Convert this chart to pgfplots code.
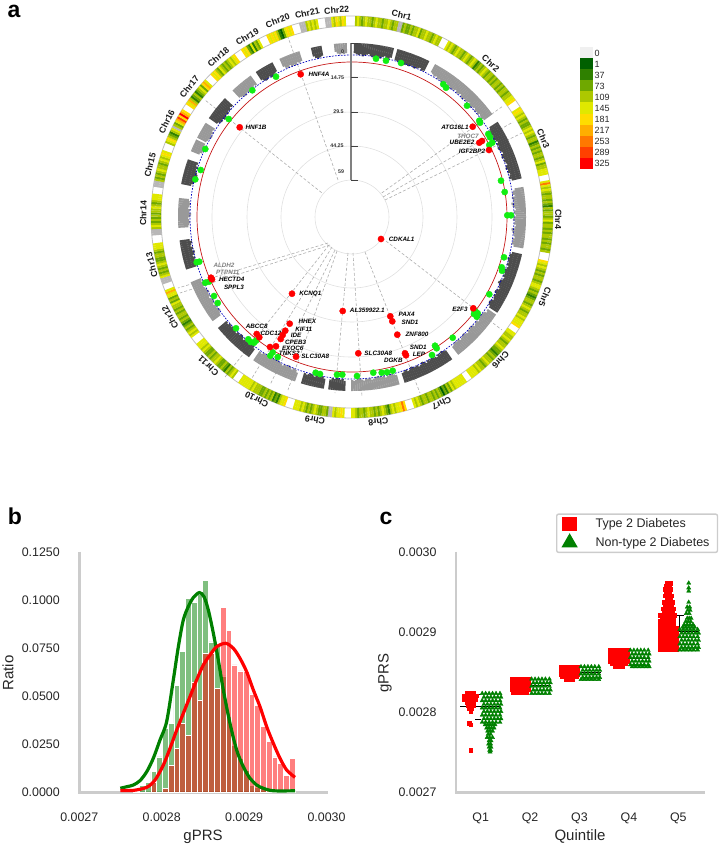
\documentclass[border=0pt]{standalone}
\usepackage{fontspec}
\setmainfont{Liberation Sans}
\usepackage{pgfplots}
\pgfplotsset{compat=1.18}
\definecolor{sp}{HTML}{CCCCCC}
\definecolor{tx}{HTML}{262626}
\definecolor{gdot}{HTML}{12EE12}
\definecolor{dk}{HTML}{4D4D4D}
\definecolor{lg}{HTML}{999999}
\definecolor{gg}{HTML}{008000}
\newcommand\heat[2]{\addplot[forget plot,point meta=\thisrowno{0},quiver={u={10*sin(#1+0.6*\coordindex)},v={-10*cos(#1+0.6*\coordindex)},colored=mapped color,every arrow/.append style={line width=2.2pt}}] table[header=false,row sep=\\,x expr={352+191*sin(#1+0.6*\coordindex)},y expr={217-191*cos(#1+0.6*\coordindex)}] {#2};}
\newcommand\band[3]{\addplot[forget plot,quiver={u={-\thisrowno{0}*sin(#1+0.7*\coordindex)},v={\thisrowno{0}*cos(#1+0.7*\coordindex)},every arrow/.append style={line width=2.3pt,draw=#2}}] table[header=false,row sep=\\,x expr={352+174*sin(#1+0.7*\coordindex)},y expr={217-174*cos(#1+0.7*\coordindex)}] {#3};}
\newcommand\dline[4]{\addplot[forget plot,no marks,color=black!32,line width=0.6pt,dash pattern=on 3pt off 2pt] coordinates {(#1,#2) (#3,#4)};}
\newcommand\gn[3]{\node[font=\fontsize{6.3}{7}\selectfont\bfseries\itshape,text=#3,inner sep=0pt] at (axis cs:#1) {#2};}
\newcommand\chrl[3]{\node[font=\fontsize{8.8}{10}\selectfont\bfseries,text=black!90,rotate=#2,inner sep=0pt] at (axis cs:#1) {#3};}
\begin{document}
\begin{tikzpicture}
\useasboundingbox (0,0) rectangle (719pt,846pt);
\begin{axis}[at={(0,0)},anchor=south west,scale only axis,width=719pt,height=846pt,xmin=0,xmax=719,ymin=0,ymax=846,y dir=reverse,hide axis,clip=false,
 point meta min=0,point meta max=12,
 colormap={heat}{rgb255=(240,240,240) rgb255=(0,96,0) rgb255=(47,128,0) rgb255=(111,168,0) rgb255=(173,200,0) rgb255=(224,232,0) rgb255=(255,220,0) rgb255=(255,174,0) rgb255=(255,120,0) rgb255=(255,64,0) rgb255=(255,0,0) rgb255=(184,184,184) rgb255=(255,255,255)}]
% rings
\draw[black!12,line width=0.6pt] (352,217) circle[radius=37pt] (352,217) circle[radius=71pt] (352,217) circle[radius=105pt] (352,217) circle[radius=140pt];
\draw[black!25,line width=0.8pt] (352,217) circle[radius=201pt] (352,217) circle[radius=191pt];
% dashed links
\dline{338}{180}{288}{37}
\dline{321.7}{192.7}{205}{100}
\dline{381.7}{193}{503}{106}
\dline{383}{197}{513}{122}
\dline{385}{200}{522}{133}
\dline{382}{238}{502}{330}
\dline{330}{245}{180}{293}
\dline{328}{243}{178}{288}
\dline{329}{245}{225}{377}
\dline{332}{247}{252}{378}
\dline{335}{250}{270}{385}
\dline{337}{251}{288}{390}
\dline{348}{253}{335}{393}
\dline{353}{253}{362}{397}
\dline{365}{252}{420}{393}
% heat ring
\heat{1.2}{4\\5\\4\\3\\4\\5\\4\\4\\3\\4\\5\\4\\4\\3\\4\\4\\5\\4\\3\\4\\4\\11\\11\\3\\4\\3\\3\\4\\3\\4\\4\\5\\3\\4\\4\\5\\4\\4\\3\\4\\5\\4\\4\\}
\heat{29}{5\\4\\5\\4\\3\\4\\5\\4\\4\\3\\4\\5\\4\\3\\4\\5\\4\\2\\3\\4\\3\\4\\5\\4\\3\\4\\4\\3\\4\\3\\4\\4\\3\\4\\3\\4\\4\\3\\4\\4\\5\\5\\6\\}
\heat{57}{5\\6\\5\\4\\5\\4\\3\\4\\3\\3\\4\\5\\4\\5\\4\\3\\4\\4\\2\\3\\4\\3\\4\\3\\4\\4\\3\\4\\5\\3\\4\\4\\5\\5\\5\\}
\heat{79.7}{5\\8\\5\\4\\5\\4\\3\\4\\4\\3\\4\\3\\2\\4\\3\\4\\4\\3\\4\\5\\3\\4\\4\\3\\4\\3\\4\\4\\3\\4\\3\\4\\4\\3\\4\\}
\heat{103}{6\\5\\4\\5\\4\\3\\4\\3\\4\\4\\3\\4\\5\\5\\4\\3\\4\\3\\2\\3\\4\\4\\3\\4\\5\\4\\3\\4\\4\\5\\4\\5\\5\\5\\6\\}
\heat{125.7}{5\\5\\4\\4\\5\\4\\3\\4\\4\\5\\4\\3\\3\\2\\3\\4\\3\\4\\4\\5\\4\\3\\4\\4\\5\\4\\5\\5\\5\\5\\}
\heat{145.4}{5\\5\\5\\5\\5\\5\\4\\5\\3\\4\\2\\3\\1\\3\\4\\3\\4\\3\\4\\4\\3\\4\\4\\3\\4\\5\\4\\5\\}
\heat{164.4}{6\\8\\6\\5\\5\\4\\5\\4\\2\\3\\4\\5\\4\\3\\4\\3\\4\\4\\5\\4\\3\\4\\4\\3\\4\\5\\5\\}
\heat{182.5}{5\\6\\5\\5\\4\\5\\11\\11\\3\\4\\4\\3\\3\\4\\5\\4\\3\\4\\3\\4\\5\\4\\5\\5\\5\\}
\heat{199.8}{6\\5\\5\\4\\2\\3\\2\\4\\3\\4\\3\\4\\3\\3\\4\\4\\4\\5\\4\\5\\5\\5\\5\\5\\5\\}
\heat{216.7}{4\\5\\4\\3\\4\\2\\3\\4\\3\\3\\4\\5\\4\\4\\3\\4\\3\\3\\4\\5\\4\\5\\5\\5\\}
\heat{233.3}{5\\4\\5\\4\\3\\4\\3\\2\\3\\4\\3\\4\\4\\3\\4\\3\\4\\4\\5\\3\\4\\3\\5\\5\\7\\5\\}
\heat{250.7}{11\\11\\11\\5\\4\\3\\4\\3\\4\\5\\4\\3\\3\\4\\4\\3\\4\\5\\5\\5\\}
\heat{265}{11\\11\\11\\4\\5\\4\\3\\4\\3\\4\\3\\4\\4\\5\\4\\3\\4\\5\\5\\5\\}
\heat{279}{11\\11\\11\\4\\3\\4\\3\\4\\5\\4\\4\\3\\4\\5\\4\\5\\6\\5\\}
\heat{292}{4\\5\\6\\4\\3\\2\\4\\5\\11\\4\\3\\5\\7\\9\\6\\10\\7\\6\\}
\heat{304.5}{6\\5\\7\\4\\2\\3\\4\\2\\3\\4\\5\\3\\6\\7\\5\\}
\heat{315.5}{6\\5\\6\\4\\3\\5\\4\\3\\4\\3\\4\\5\\4\\5\\6\\}
\heat{326.7}{6\\5\\6\\3\\2\\5\\2\\4\\3\\5\\}
\heat{335}{6\\5\\6\\5\\6\\4\\2\\1\\3\\5\\6\\5\\6\\}
\heat{345}{11\\11\\11\\4\\5\\4\\5\\4\\5\\}
\heat{352.5}{11\\11\\11\\5\\4\\6\\5\\4\\6\\5\\}
% manhattan bands
\band{1}{dk}{10\\11\\12\\11\\13\\12\\11\\10\\12\\13\\12\\11\\12\\13\\11\\10\\12\\12\\10\\}
\band{15.5}{dk}{11\\12\\13\\12\\14\\13\\12\\13\\12\\11\\13\\12\\11\\10\\12\\11\\}
\band{28.9}{lg}{9\\10\\11\\10\\12\\11\\12\\13\\11\\10\\12\\11\\13\\12\\11\\10\\12\\11\\10\\12\\13\\11\\12\\11\\10\\12\\13\\11\\10\\12\\11\\12\\10\\11\\12\\10\\}
\band{57.2}{dk}{10\\11\\13\\12\\11\\12\\13\\11\\10\\12\\11\\13\\12\\11\\10\\12\\13\\11\\12\\11\\10\\12\\13\\11\\12\\10\\11\\12\\10\\}
\band{80.4}{lg}{9\\11\\12\\10\\13\\12\\11\\14\\13\\11\\10\\12\\11\\10\\12\\13\\11\\12\\10\\11\\14\\13\\12\\11\\10\\12\\11\\12\\10\\}
\band{102.7}{dk}{10\\12\\11\\13\\12\\11\\12\\10\\11\\13\\12\\11\\12\\10\\11\\13\\14\\12\\11\\10\\12\\13\\11\\12\\11\\10\\12\\13\\12\\10\\}
\band{124.5}{lg}{10\\9\\11\\12\\13\\12\\11\\10\\12\\11\\10\\12\\13\\11\\12\\10\\11\\13\\12\\11\\10\\12\\11\\12\\11\\10\\}
\band{145.2}{dk}{11\\12\\13\\11\\12\\10\\11\\13\\12\\11\\12\\10\\12\\13\\11\\10\\12\\11\\12\\13\\11\\10\\12\\11\\10\\}
\band{164.5}{lg}{10\\11\\12\\13\\11\\10\\12\\11\\12\\13\\12\\11\\10\\12\\11\\12\\10\\11\\12\\13\\11\\10\\11\\}
\band{182.6}{dk}{10\\12\\11\\12\\13\\11\\12\\10\\}
\band{189.7}{dk}{10\\12\\13\\11\\12\\10\\11\\12\\11\\10\\11\\}
\band{199.5}{lg}{9\\11\\12\\10\\12\\13\\11\\12\\10\\11\\12\\13\\14\\12\\13\\11\\10\\12\\11\\12\\10\\11\\}
\band{216.7}{dk}{10\\12\\13\\11\\12\\13\\11\\10\\12\\13\\11\\12\\10\\11\\13\\12\\11\\12\\10\\11\\}
\band{233.6}{lg}{10\\11\\13\\12\\11\\12\\10\\12\\13\\11\\10\\12\\11\\13\\12\\11\\10\\12\\11\\10\\11\\}
\band{252.8}{dk}{11\\12\\13\\11\\12\\10\\12\\13\\11\\12\\10\\11\\12\\10\\}
\band{266.8}{lg}{10\\11\\12\\11\\10\\12\\13\\11\\12\\10\\11\\12\\11\\10\\}
\band{281.3}{dk}{10\\12\\13\\11\\12\\14\\13\\12\\11\\12\\10\\11\\}
\band{292.6}{lg}{9\\11\\12\\11\\10\\10\\}
\band{297.5}{lg}{10\\11\\12\\13\\11\\12\\10\\11\\}
\band{305}{dk}{10\\12\\13\\12\\14\\13\\12\\13\\11\\12\\10\\11\\}
\band{317}{lg}{10\\11\\12\\13\\11\\12\\10\\11\\12\\10\\11\\}
\band{326.8}{dk}{10\\12\\13\\12\\11\\13\\12\\11\\10\\}
\band{335.7}{lg}{9\\11\\12\\10\\12\\11\\12\\10\\11\\10\\}
\band{346.7}{dk}{9\\11\\12\\11\\10\\}
\band{354.4}{lg}{8\\10\\11\\10\\11\\10\\}
\draw[color=red!75!black!90,line width=0.7pt] (352,217) circle[radius=155pt];
\draw[color=blue!75!black,line width=0.7pt,dash pattern=on 1.6pt off 1.4pt] (352,217) circle[radius=162pt];
% Y axis of the Manhattan
\draw[black!50,line width=1.6pt] (351,43)--(351,180);
\draw[black!75,line width=0.6pt] (351,43)--(358,43) (351,77)--(358,77) (351,112)--(358,112) (351,146)--(358,146) (351,180)--(358,180);
\node[font=\fontsize{5.3}{6}\selectfont\bfseries,text=black!80,inner sep=0pt] at (axis cs:342.5,52) {0};
\node[font=\fontsize{5.3}{6}\selectfont\bfseries,text=black!80,inner sep=0pt] at (axis cs:337.5,77.5) {14.75};
\node[font=\fontsize{5.3}{6}\selectfont\bfseries,text=black!80,inner sep=0pt] at (axis cs:338.5,112) {29.5};
\node[font=\fontsize{5.3}{6}\selectfont\bfseries,text=black!80,inner sep=0pt] at (axis cs:337,146) {44.25};
\node[font=\fontsize{5.3}{6}\selectfont\bfseries,text=black!80,inner sep=0pt] at (axis cs:341,172) {59};
% significant SNPs
\addplot[forget plot,only marks,mark=*,mark size=3.1pt,color=gdot,mark options={draw=gdot,fill=gdot}] coordinates {(376,58.7)(386,60.7)(401,63)(276,76.7)(252.3,90.3)(228.7,119)(205.3,149)(200.7,170)(195.3,179.3)(443.3,84.3)(446,87.7)(467,105.7)(479.3,120.7)(480,122.7)(488.3,134)(490,137.3)(492.3,142.7)(489.3,145)(501,180.7)(504.7,192)(507.3,215.3)(511,215.3)(196.7,262.3)(199.3,261.7)(205.3,282.7)(209,281.7)(214,296)(217.7,303)(236,328.3)(248.3,339.3)(250.7,342)(254,342.7)(256,340.7)(272.7,352.3)(270.3,355.7)(277.7,357)(315.7,372.7)(320,374)(337,374.7)(342.3,374.7)(357,376)(373.3,372.7)(381.7,372.7)(387,372.3)(392.7,370.7)(504,257.3)(501.7,267.3)(502,270.7)(489.3,294.3)(474,310)(475.7,311.7)(474,314)(476.7,316.7)(477.7,313.3)(452.7,337.7)(435,345.7)(436.7,348.3)(432,355)};
\addplot[forget plot,only marks,mark=*,mark size=3.1pt,color=red,mark options={draw=red,fill=red}] coordinates {(300.7,74.3)(239.7,127.3)(381,239)(472.7,126.7)(479.3,142.7)(482,141)(489,150)(212,279.3)(211,277.7)(292,293.7)(342.7,311)(390.3,316.3)(392.3,321.3)(397.3,334.7)(289.7,323.7)(285.3,330.7)(282.7,335)(280.7,339)(256.7,334)(259.3,337.3)(276,346.3)(270,347)(296,356.7)(358.3,353.3)(405,353.3)(406,355.3)(473.3,308.3)};
% gene labels
\gn{319,74}{HNF4A}{black}\gn{256,127.3}{HNF1B}{black}\gn{401.7,239}{CDKAL1}{black}
\gn{455,127}{ATG16L1}{black}\gn{468,136.7}{THOC7}{black!50}\gn{462,142.3}{UBE2E2}{black}\gn{472,151.7}{IGF2BP2}{black}
\gn{224,265.7}{ALDH2}{black!50}\gn{227.7,272.3}{PTPN11}{black!50}\gn{231.7,279.7}{HECTD4}{black}\gn{234,287}{SPPL3}{black}
\gn{310.3,294}{KCNQ1}{black}\gn{367.3,310.7}{AL359922.1}{black}\gn{406.7,314.7}{PAX4}{black}\gn{410,322.7}{SND1}{black}\gn{417,334.7}{ZNF800}{black}
\gn{307.3,321.3}{HHEX}{black}\gn{303.7,329.3}{KIF11}{black}\gn{296,335.3}{IDE}{black}\gn{295.7,342}{CPEB3}{black}\gn{256.7,326.7}{ABCC8}{black}\gn{272.7,333.3}{CDC123}{black}\gn{292.7,348}{EXOC6}{black}\gn{289.3,353.7}{TNKS2}{black}
\gn{315.3,356.7}{SLC30A8}{black}\gn{378.3,353.7}{SLC30A8}{black}\gn{418.3,347}{SND1}{black}\gn{419,354.3}{LEP}{black}\gn{393.3,360}{DGKB}{black}\gn{460,309}{E2F3}{black}
% chromosome labels
\chrl{401.7,15}{-13}{Chr1}\chrl{490.7,63.3}{-42}{Chr2}\chrl{543.3,138.3}{-67.5}{Chr3}\chrl{558.3,219.3}{-91}{Chr4}\chrl{545,296.7}{-112}{Chr5}\chrl{500.7,360}{-134}{Chr6}\chrl{441.7,403.3}{-154}{Chr7}\chrl{378.3,421.7}{-173}{Chr8}\chrl{315,420}{-190}{Chr9}\chrl{256.7,400}{-207}{Chr10}\chrl{208.3,366}{-224}{Chr11}\chrl{170,317.3}{-241}{Chr12}\chrl{151.7,265}{-256}{Chr13}\chrl{143.3,213.3}{-271}{Chr14}\chrl{150,165}{-284}{Chr15}\chrl{166.7,121.7}{-297}{Chr16}\chrl{189.3,86.7}{-309}{Chr17}\chrl{218.3,56.7}{-320}{Chr18}\chrl{247.3,36.7}{-330}{Chr19}\chrl{277.7,20.7}{-339}{Chr20}\chrl{307.3,13.3}{-348}{Chr21}\chrl{336.7,10}{-356}{Chr22}
% colour key
\addplot[forget plot,point meta=\thisrowno{2},quiver={u=13,v=0,colored=mapped color,every arrow/.append style={line width=11.1pt}}] table[header=false] {
580 52.6 0
580 63.6 1
580 74.7 2
580 85.8 3
580 96.9 4
580 108 5
580 119.1 6
580 130.2 7
580 141.3 8
580 152.4 9
580 163.5 10
};
\foreach \yy/\tt in {53/0,64/1,75.2/37,86.2/73,97.2/109,108.3/145,119.3/181,130.3/217,141.3/253,152.3/289,163.3/325}{
\edef\temp{\noexpand\node[font=\noexpand\fontsize{9}{10}\noexpand\selectfont,text=tx,anchor=west,inner sep=0pt] at (axis cs:594.5,\yy) {\tt};}\temp}
% panel letters and titles
\node[font=\fontsize{23}{24}\selectfont\bfseries,inner sep=0pt] at (axis cs:14,11) {a};
\node[font=\fontsize{23}{24}\selectfont\bfseries,inner sep=0pt] at (axis cs:15,516) {b};
\node[font=\fontsize{23}{24}\selectfont\bfseries,inner sep=0pt] at (axis cs:386,518) {c};
\node[font=\fontsize{15}{16}\selectfont,text=tx,inner sep=0pt] at (axis cs:203,836.5) {gPRS};
\node[font=\fontsize{15}{16}\selectfont,text=tx,inner sep=0pt,rotate=90] at (axis cs:8,673) {Ratio};
\node[font=\fontsize{15}{16}\selectfont,text=tx,inner sep=0pt] at (axis cs:580,836.5) {Quintile};
\node[font=\fontsize{15}{16}\selectfont,text=tx,inner sep=0pt,rotate=90] at (axis cs:385,673) {gPRS};
\end{axis}
% panel b
\begin{axis}[at={(79.3pt,53.3pt)},anchor=south west,scale only axis,width=249pt,height=241pt,xmin=27,xmax=30.022,ymin=0,ymax=0.1255,clip=false,
 axis x line*=bottom,axis y line*=left,axis line style={draw=none},major tick length=0pt,
 xtick={27,28,29,30},xticklabels={0.0027,0.0028,0.0029,0.0030},
 ytick={0,0.025,0.05,0.075,0.1,0.125},
 /pgf/number format/assume math mode=true,/pgf/number format/fixed,/pgf/number format/fixed zerofill,/pgf/number format/precision=4,
 tick label style={font=\fontsize{12.4}{14}\selectfont,text=tx},
 xticklabel style={yshift=-17pt},yticklabel style={xshift=-16pt}]
\addplot[forget plot,no marks,color=sp,line width=2.8pt] coordinates {(27,0.1255)(27,0)(30.022,0)};
\addplot[forget plot,ybar interval,fill=gg,fill opacity=0.5,draw=white,line width=0.5pt] coordinates {(27.658,0.001)(27.728,0.004)(27.798,0.0055)(27.868,0.011)(27.938,0.0187)(28.008,0.0335)(28.078,0.036)(28.148,0.056)(28.218,0.0734)(28.288,0.1012)(28.358,0.099)(28.428,0.1035)(28.498,0.1104)(28.568,0.0786)(28.638,0.0774)(28.708,0.0608)(28.778,0.0396)(28.848,0.0245)(28.918,0.0179)(28.988,0.0118)(29.058,0.004)(29.128,0.003)(29.198,0.0022)(29.268,0.001)(29.338,0.0005)(29.408,0.0005)};
\addplot[forget plot,ybar interval,fill=red,fill opacity=0.5,draw=white,line width=0.5pt] coordinates {(27.868,0.0054)(27.938,0)(28.008,0.0023)(28.078,0.0144)(28.148,0.0231)(28.218,0.0361)(28.288,0.03)(28.358,0.0575)(28.428,0.0483)(28.498,0.0726)(28.568,0.0726)(28.638,0.0543)(28.708,0.0965)(28.778,0.0844)(28.848,0.0665)(28.918,0.0635)(28.988,0.063)(29.058,0.0514)(29.128,0.0453)(29.198,0.0344)(29.268,0.0266)(29.338,0.0187)(29.408,0.0153)(29.478,0.0089)(29.548,0.0179)(29.618,0.0179)};
\addplot[forget plot,no marks,smooth,color=gg,line width=3.2pt] coordinates {(27.498,0.0023)(27.575,0.0031)(27.656,0.004)(27.737,0.0063)(27.818,0.0109)(27.898,0.0179)(27.979,0.0274)(28.060,0.037)(28.141,0.0587)(28.202,0.076)(28.262,0.0899)(28.323,0.0969)(28.384,0.1016)(28.457,0.1042)(28.513,0.1021)(28.566,0.0951)(28.627,0.083)(28.687,0.0691)(28.748,0.0535)(28.829,0.0361)(28.910,0.0222)(28.991,0.0135)(29.072,0.0075)(29.153,0.004)(29.233,0.0023)(29.355,0.001)(29.618,0.001)};
\addplot[forget plot,no marks,smooth,color=red,line width=3.2pt] coordinates {(27.498,0.0012)(27.656,0.0012)(27.818,0.0028)(27.919,0.0066)(28.020,0.0144)(28.101,0.0231)(28.182,0.0326)(28.262,0.0413)(28.343,0.05)(28.424,0.0587)(28.505,0.0665)(28.586,0.0717)(28.667,0.076)(28.776,0.0778)(28.869,0.0752)(28.950,0.07)(29.031,0.063)(29.112,0.0535)(29.193,0.0448)(29.274,0.0344)(29.355,0.0257)(29.436,0.0179)(29.517,0.0118)(29.618,0.008)};
\end{axis}
% panel c
\begin{axis}[at={(456pt,53.3pt)},anchor=south west,scale only axis,width=249pt,height=241pt,xmin=-0.5,xmax=4.54,ymin=27,ymax=30.0125,clip=false,
 axis x line*=bottom,axis y line*=left,axis line style={draw=none},major tick length=0pt,
 xtick={0,1,2,3,4},xticklabels={Q1,Q2,Q3,Q4,Q5},ytick={27,28,29,30},yticklabels={0.0027,0.0028,0.0029,0.0030},
 tick label style={font=\fontsize{12.4}{14}\selectfont,text=tx},
 xticklabel style={yshift=-17pt},yticklabel style={xshift=-16pt},
 legend style={at={(0.4016,1.159)},anchor=north west,draw=sp,line width=1.4pt,rounded corners=2pt,font=\fontsize{12.5}{14}\selectfont,text=tx,inner xsep=6pt,inner ysep=2.5pt,row sep=3.5pt,/tikz/every odd column/.append style={column sep=17pt}},legend cell align=left,legend image post style={xshift=5pt}]
\addlegendimage{only marks,mark=square*,color=red,mark options={draw=red,fill=red},mark size=6.5pt}
\addlegendentry{Type 2 Diabetes}
\addlegendimage{only marks,mark=triangle*,color=gg,mark options={draw=gg,fill=gg},mark size=8pt}
\addlegendentry{Non-type 2 Diabetes}
\addplot[forget plot,no marks,color=sp,line width=2.8pt] coordinates {(-0.5,30.0125)(-0.5,27)(4.54,27)};
\addplot[forget plot,only marks,mark=square*,mark size=1.8pt,color=red,mark options={draw=red,fill=red}] coordinates {
(-0.27,28.25)(-0.21,28.25)(-0.15,28.25)(-0.33,28.21)(-0.27,28.21)(-0.21,28.21)(-0.15,28.21)(-0.09,28.21)(-0.33,28.17)(-0.27,28.17)(-0.21,28.17)(-0.15,28.17)(-0.10,28.17)(-0.27,28.13)(-0.21,28.13)(-0.15,28.13)(-0.25,28.09)(-0.20,28.09)(-0.15,28.09)(-0.23,28.05)(-0.18,28.05)(-0.20,28.02)(-0.23,27.87)(-0.20,27.85)(-0.20,27.53)
(0.63,28.42)(0.70,28.42)(0.77,28.42)(0.84,28.42)(0.91,28.42)(0.96,28.42)(0.63,28.375)(0.70,28.375)(0.77,28.375)(0.84,28.375)(0.91,28.375)(0.96,28.375)(0.63,28.33)(0.70,28.33)(0.77,28.33)(0.84,28.33)(0.91,28.33)(0.96,28.33)(0.63,28.285)(0.70,28.285)(0.77,28.285)(0.84,28.285)(0.91,28.285)(0.96,28.285)(0.66,28.25)(0.73,28.25)(0.80,28.25)(0.87,28.25)(0.93,28.25)
(1.62,28.57)(1.69,28.57)(1.76,28.57)(1.83,28.57)(1.90,28.57)(1.96,28.57)(1.62,28.525)(1.69,28.525)(1.76,28.525)(1.83,28.525)(1.90,28.525)(1.96,28.525)(1.62,28.48)(1.69,28.48)(1.76,28.48)(1.83,28.48)(1.90,28.48)(1.96,28.48)(1.65,28.45)(1.72,28.45)(1.79,28.45)(1.86,28.45)(1.93,28.45)(1.72,28.42)(1.79,28.42)(1.86,28.42)
(2.62,28.78)(2.69,28.78)(2.76,28.78)(2.83,28.78)(2.90,28.78)(2.96,28.78)(2.62,28.735)(2.69,28.735)(2.76,28.735)(2.83,28.735)(2.90,28.735)(2.96,28.735)(2.62,28.69)(2.69,28.69)(2.76,28.69)(2.83,28.69)(2.90,28.69)(2.96,28.69)(2.62,28.645)(2.69,28.645)(2.76,28.645)(2.83,28.645)(2.90,28.645)(2.96,28.645)(2.65,28.61)(2.72,28.61)(2.79,28.61)(2.86,28.61)(2.93,28.61)(2.72,28.58)(2.79,28.58)(2.86,28.58)
(3.63,28.79)(3.70,28.79)(3.77,28.79)(3.84,28.79)(3.91,28.79)(3.96,28.79)(3.63,28.835)(3.70,28.835)(3.77,28.835)(3.84,28.835)(3.91,28.835)(3.96,28.835)(3.63,28.88)(3.70,28.88)(3.77,28.88)(3.84,28.88)(3.91,28.88)(3.96,28.88)(3.63,28.925)(3.70,28.925)(3.77,28.925)(3.84,28.925)(3.91,28.925)(3.96,28.925)(3.63,28.97)(3.70,28.97)(3.77,28.97)(3.84,28.97)(3.91,28.97)(3.96,28.97)(3.63,29.015)(3.70,29.015)(3.77,29.015)(3.84,29.015)(3.91,29.015)(3.96,29.015)(3.63,29.06)(3.70,29.06)(3.77,29.06)(3.84,29.06)(3.91,29.06)(3.96,29.06)(3.63,29.105)(3.70,29.105)(3.77,29.105)(3.84,29.105)(3.91,29.105)
(3.63,29.15)(3.70,29.15)(3.77,29.15)(3.84,29.15)(3.91,29.15)(3.66,29.18)(3.72,29.18)(3.78,29.18)(3.84,29.18)(3.90,29.18)(3.63,29.22)(3.69,29.22)(3.75,29.22)(3.81,29.22)(3.87,29.22)(3.92,29.22)(3.70,29.26)(3.76,29.26)(3.82,29.26)(3.88,29.26)(3.68,29.30)(3.74,29.30)(3.80,29.30)(3.86,29.30)(3.90,29.30)(3.74,29.34)(3.80,29.34)(3.86,29.34)(3.71,29.38)(3.76,29.38)(3.82,29.38)(3.88,29.38)(3.77,29.42)(3.83,29.42)(3.74,29.46)(3.79,29.46)(3.85,29.46)(3.76,29.50)(3.81,29.50)(3.74,29.54)(3.79,29.54)(3.84,29.54)(3.75,29.58)(3.81,29.58)(3.78,29.62)(3.83,29.62)};
\addplot[forget plot,only marks,mark=triangle*,mark size=2.4pt,color=gg,mark options={draw=gg,fill=gg}] coordinates {
(0.03,28.24)(0.10,28.24)(0.17,28.24)(0.24,28.24)(0.31,28.24)(0.39,28.24)(0.065,28.195)(0.135,28.195)(0.205,28.195)(0.275,28.195)(0.345,28.195)(0.41,28.195)(0.03,28.15)(0.10,28.15)(0.17,28.15)(0.24,28.15)(0.31,28.15)(0.39,28.15)(0.065,28.105)(0.135,28.105)(0.205,28.105)(0.275,28.105)(0.345,28.105)(0.41,28.105)(0.03,28.06)(0.10,28.06)(0.17,28.06)(0.24,28.06)(0.31,28.06)(0.39,28.06)(0.065,28.015)(0.135,28.015)(0.205,28.015)(0.275,28.015)(0.345,28.015)(0.41,28.015)(0.03,27.97)(0.10,27.97)(0.17,27.97)(0.24,27.97)(0.31,27.97)(0.39,27.97)(0.065,27.925)(0.135,27.925)(0.205,27.925)(0.275,27.925)(0.345,27.925)(0.41,27.925)(0.03,27.88)(0.10,27.88)(0.17,27.88)(0.24,27.88)(0.31,27.88)(0.39,27.88)
(0.09,27.85)(0.14,27.85)(0.19,27.85)(0.24,27.85)(0.29,27.85)(0.12,27.81)(0.17,27.81)(0.22,27.81)(0.27,27.81)(0.14,27.77)(0.19,27.77)(0.24,27.77)(0.15,27.73)(0.20,27.73)(0.13,27.69)(0.18,27.69)(0.24,27.69)(0.17,27.65)(0.21,27.65)(0.16,27.61)(0.20,27.61)(0.17,27.57)(0.21,27.57)(0.18,27.53)(0.20,27.53)(0.19,27.51)
(1.03,28.42)(1.10,28.42)(1.17,28.42)(1.24,28.42)(1.31,28.42)(1.39,28.42)(1.065,28.375)(1.135,28.375)(1.205,28.375)(1.275,28.375)(1.345,28.375)(1.41,28.375)(1.03,28.33)(1.10,28.33)(1.17,28.33)(1.24,28.33)(1.31,28.33)(1.39,28.33)(1.065,28.285)(1.135,28.285)(1.205,28.285)(1.275,28.285)(1.345,28.285)(1.41,28.285)(1.03,28.24)(1.10,28.24)(1.17,28.24)(1.24,28.24)(1.31,28.24)(1.39,28.24)
(2.03,28.575)(2.10,28.575)(2.17,28.575)(2.24,28.575)(2.31,28.575)(2.39,28.575)(2.065,28.53)(2.135,28.53)(2.205,28.53)(2.275,28.53)(2.345,28.53)(2.41,28.53)(2.03,28.485)(2.10,28.485)(2.17,28.485)(2.24,28.485)(2.31,28.485)(2.39,28.485)(2.065,28.44)(2.135,28.44)(2.205,28.44)(2.275,28.44)(2.345,28.44)(2.41,28.44)(2.03,28.415)(2.10,28.415)(2.17,28.415)(2.24,28.415)(2.31,28.415)(2.39,28.415)
(3.03,28.78)(3.10,28.78)(3.17,28.78)(3.24,28.78)(3.31,28.78)(3.39,28.78)(3.065,28.735)(3.135,28.735)(3.205,28.735)(3.275,28.735)(3.345,28.735)(3.41,28.735)(3.03,28.69)(3.10,28.69)(3.17,28.69)(3.24,28.69)(3.31,28.69)(3.39,28.69)(3.065,28.645)(3.135,28.645)(3.205,28.645)(3.275,28.645)(3.345,28.645)(3.41,28.645)(3.03,28.60)(3.10,28.60)(3.17,28.60)(3.24,28.60)(3.31,28.60)(3.39,28.60)(3.065,28.575)(3.135,28.575)(3.205,28.575)(3.275,28.575)(3.345,28.575)(3.41,28.575)
(4.03,29.04)(4.10,29.04)(4.17,29.04)(4.24,29.04)(4.31,29.04)(4.39,29.04)(4.065,28.995)(4.135,28.995)(4.205,28.995)(4.275,28.995)(4.345,28.995)(4.41,28.995)(4.03,28.95)(4.10,28.95)(4.17,28.95)(4.24,28.95)(4.31,28.95)(4.39,28.95)(4.065,28.905)(4.135,28.905)(4.205,28.905)(4.275,28.905)(4.345,28.905)(4.41,28.905)(4.03,28.86)(4.10,28.86)(4.17,28.86)(4.24,28.86)(4.31,28.86)(4.39,28.86)(4.065,28.815)(4.135,28.815)(4.205,28.815)(4.275,28.815)(4.345,28.815)(4.41,28.815)(4.03,28.785)(4.10,28.785)(4.17,28.785)(4.24,28.785)(4.31,28.785)(4.39,28.785)
(4.21,29.62)(4.21,29.56)(4.21,29.52)(4.21,29.38)(4.18,29.32)(4.23,29.32)(4.19,29.28)(4.24,29.28)(4.16,29.24)(4.22,29.24)(4.18,29.18)(4.22,29.18)(4.26,29.18)(4.15,29.14)(4.20,29.14)(4.25,29.14)(4.12,29.10)(4.18,29.10)(4.24,29.10)(4.30,29.10)(4.09,29.07)(4.15,29.07)(4.21,29.07)(4.27,29.07)(4.33,29.07)};
\addplot[forget plot,no marks,black,line width=1pt] coordinates {(-0.419,28.075)(0.411,28.075)};
\addplot[forget plot,no marks,black,line width=1pt] coordinates {(0.593,28.342)(1.423,28.342)};
\addplot[forget plot,no marks,black,line width=1pt] coordinates {(1.583,28.508)(2.427,28.508)};
\addplot[forget plot,no marks,black,line width=1pt] coordinates {(2.583,28.683)(3.426,28.683)};
\addplot[forget plot,no marks,black,line width=1pt] coordinates {(3.595,29.02)(4.425,29.02)};
\addplot[forget plot,no marks,black,line width=1pt] coordinates {(-0.115,28.233)(0,28.233)};
\addplot[forget plot,no marks,black,line width=1pt] coordinates {(-0.115,27.921)(0,27.921)};
\addplot[forget plot,no marks,black,line width=1pt] coordinates {(3.913,29.221)(4.115,29.221)};
\addplot[forget plot,no marks,black,line width=1pt] coordinates {(4.02,29.221)(4.02,29.02)};
\end{axis}
\end{tikzpicture}
\end{document}
